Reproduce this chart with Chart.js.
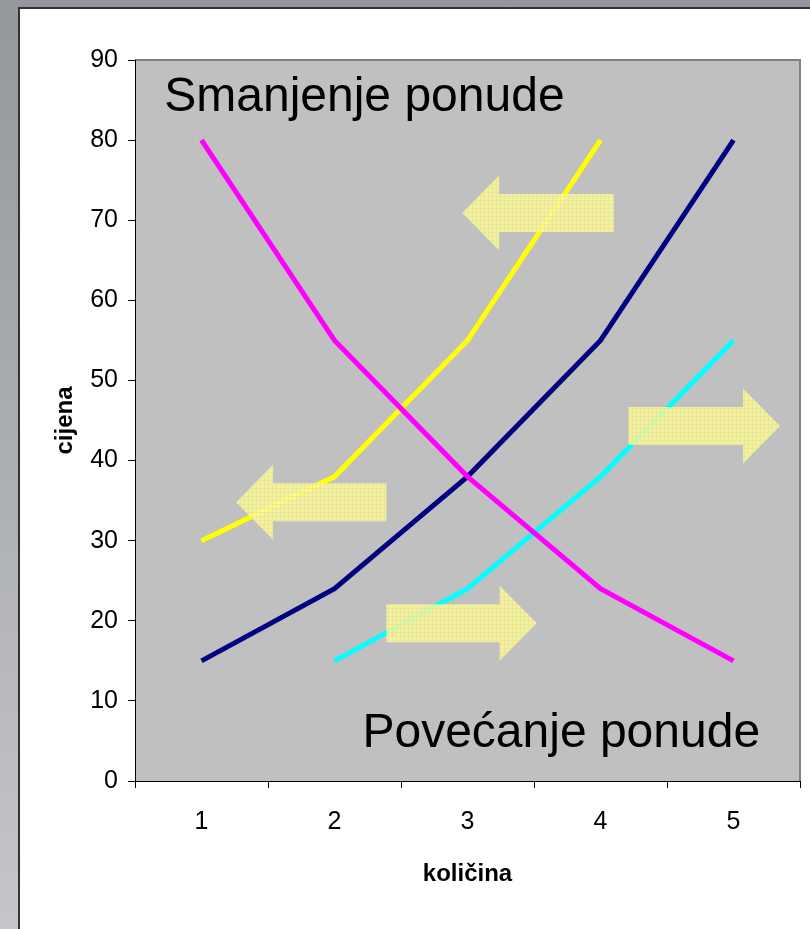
<!DOCTYPE html>
<html>
<head>
<meta charset="utf-8">
<script src="https://cdn.jsdelivr.net/npm/chart.js@4/dist/chart.umd.min.js"></script>
<style>
  html, body { margin: 0; padding: 0; }
  body {
    width: 810px; height: 929px; overflow: hidden; position: relative;
    background: linear-gradient(to bottom, #94979c 0%, #a9acb1 45%, #c5c6cc 100%);
  }
  #panel {
    position: absolute; left: 18px; top: 7px; right: -10px; bottom: -10px;
    background: #fff; border-left: 2px solid #333; border-top: 2px solid #333;
  }
  #c { position: absolute; left: 0; top: 0; }
</style>
</head>
<body>
<div id="panel"></div>
<canvas id="c" width="810" height="929"></canvas>
<script>
// kolicina (x) categories
var kolicina = ['1', '2', '3', '4', '5'];
var yTicks = [0, 10, 20, 30, 40, 50, 60, 70, 80, 90];

// cijena values per series
var potraznja = [80, 55, 38, 24, 15];      // magenta
var ponuda = [15, 24, 38, 55, 80];         // navy
var ponudaManja = [30, 38, 55, 80, null];  // yellow
var ponudaVeca = [null, 15, 24, 38, 55];   // cyan

// arrows: tail / tip as category index, y in cijena units
var strelice = [
  { tail: 3.10, tip: 1.96, y: 70.9 },
  { tail: 1.39, tip: 0.26, y: 34.8 },
  { tail: 3.21, tip: 4.35, y: 44.3 },
  { tail: 1.39, tip: 2.52, y: 19.7 }
];

var font = 'Liberation Sans, Arial, sans-serif';

function makePattern(ctx) {
  var p = document.createElement('canvas');
  p.width = 4; p.height = 4;
  var g = p.getContext('2d');
  g.fillStyle = 'rgba(255,255,150,0.78)';
  g.fillRect(0, 0, 4, 4);
  g.fillStyle = 'rgba(235,228,150,0.85)';
  g.fillRect(0, 0, 4, 1);
  g.fillRect(0, 0, 1, 4);
  return ctx.createPattern(p, 'repeat');
}

var plotBg = {
  id: 'plotBg',
  beforeDraw: function (chart) {
    var a = chart.chartArea, ctx = chart.ctx;
    ctx.save();
    ctx.fillStyle = '#c0c0c0';
    ctx.fillRect(a.left, a.top, a.right - a.left, a.bottom - a.top);
    ctx.strokeStyle = '#808080';
    ctx.lineWidth = 2;
    ctx.beginPath();
    ctx.moveTo(a.left, a.top);
    ctx.lineTo(a.right, a.top);
    ctx.lineTo(a.right, a.bottom);
    ctx.stroke();
    ctx.restore();
  }
};

var arrows = {
  id: 'arrows',
  afterDatasetsDraw: function (chart) {
    var ctx = chart.ctx, xs = chart.scales.x, ys = chart.scales.y;
    var headLen = 37, headHalf = 37.5, bodyHalf = 19;
    ctx.save();
    ctx.fillStyle = makePattern(ctx);
    strelice.forEach(function (s) {
      var xt = xs.getPixelForValue(s.tail);
      var xp = xs.getPixelForValue(s.tip);
      var y = ys.getPixelForValue(s.y);
      var dir = xp > xt ? 1 : -1;
      var xb = xp - dir * headLen;
      ctx.beginPath();
      ctx.moveTo(xt, y - bodyHalf);
      ctx.lineTo(xb, y - bodyHalf);
      ctx.lineTo(xb, y - headHalf);
      ctx.lineTo(xp, y);
      ctx.lineTo(xb, y + headHalf);
      ctx.lineTo(xb, y + bodyHalf);
      ctx.lineTo(xt, y + bodyHalf);
      ctx.closePath();
      ctx.fill();
    });
    ctx.restore();
  },
  afterDraw: function (chart) {
    var ctx = chart.ctx, xs = chart.scales.x, ys = chart.scales.y;
    ctx.save();
    ctx.fillStyle = '#000';
    ctx.font = '48px ' + font;
    ctx.textBaseline = 'alphabetic';
    ctx.textAlign = 'left';
    ctx.fillText('Smanjenje ponude', xs.getPixelForValue(-0.28), ys.getPixelForValue(83.6));
    ctx.fillText('Povećanje ponude', xs.getPixelForValue(1.21), ys.getPixelForValue(4.3));
    ctx.restore();
  }
};

function line(data, color) {
  return {
    data: data,
    borderColor: color,
    backgroundColor: color,
    borderWidth: 5,
    pointRadius: 0,
    pointHoverRadius: 0,
    tension: 0,
    fill: false,
    spanGaps: false
  };
}

new Chart(document.getElementById('c'), {
  type: 'line',
  data: {
    labels: kolicina,
    datasets: [
      line(potraznja, '#ff00ff'),
      line(ponuda, '#000080'),
      line(ponudaManja, '#ffff00'),
      line(ponudaVeca, '#00ffff')
    ]
  },
  plugins: [plotBg, arrows],
  options: {
    responsive: false,
    animation: false,
    events: [],
    layout: { padding: { top: 60, right: 10, left: 40, bottom: 30 } },
    plugins: { legend: { display: false }, tooltip: { enabled: false } },
    scales: {
      x: {
        type: 'category',
        offset: true,
        afterFit: function (s) { s.height = 118; },
        grid: { offset: true, drawOnChartArea: false, tickLength: 7, color: '#000', tickColor: '#000' },
        border: { color: '#000', width: 1 },
        ticks: { color: '#000', font: { family: font, size: 25 }, padding: 19, maxRotation: 0 },
        title: { display: true, text: 'količina', color: '#000', font: { family: font, size: 24, weight: 'bold' }, padding: { top: 0, bottom: 10 } }
      },
      y: {
        min: yTicks[0],
        max: yTicks[yTicks.length - 1],
        afterFit: function (s) { s.width = 95; },
        afterBuildTicks: function (s) { s.ticks = yTicks.map(function (v) { return { value: v }; }); },
        grid: { drawOnChartArea: false, tickLength: 7, color: '#000', tickColor: '#000' },
        border: { color: '#000', width: 1 },
        ticks: { color: '#000', font: { family: font, size: 25 }, padding: 10 },
        title: { display: true, text: 'cijena', color: '#000', font: { family: font, size: 24, weight: 'bold' }, padding: { top: 11, bottom: 0 } }
      }
    }
  }
});
</script>
</body>
</html>
